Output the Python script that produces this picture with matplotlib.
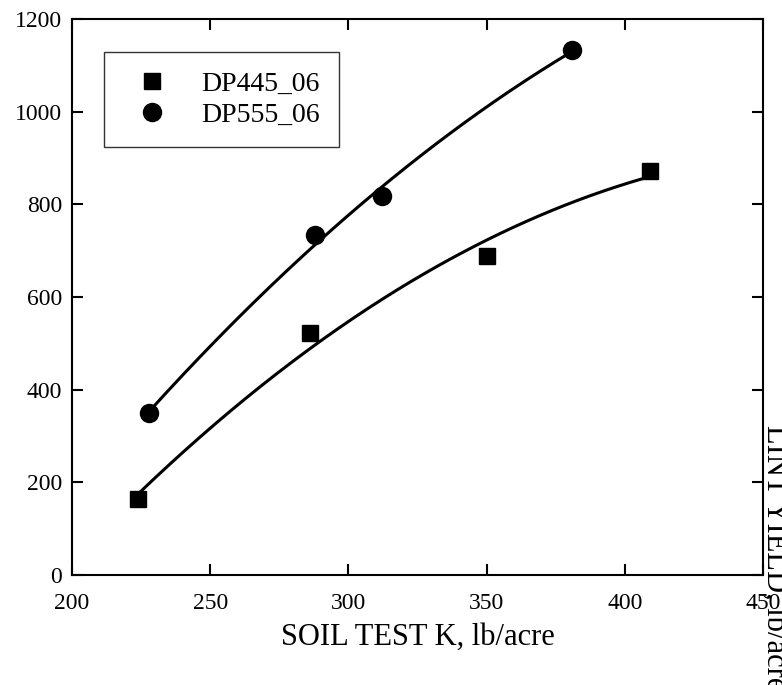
import numpy as np
import matplotlib.pyplot as plt

plt.rcParams['font.family'] = ['Liberation Serif', 'DejaVu Serif']

# soil test K (lb/acre) and lint yield (lb/acre)
k_445 = [224, 286, 350, 409]
y_445 = [164, 522, 688, 872]
k_555 = [228, 288, 312, 381]
y_555 = [350, 734, 817, 1133]

fig = plt.figure(figsize=(7.82, 6.85), dpi=100)
ax = fig.add_axes([0.0921, 0.1606, 0.8836, 0.8117])

# quadratic trend lines through each cultivar
for kx, yy in [(k_445, y_445), (k_555, y_555)]:
    c = np.polyfit(kx, yy, 2)
    xs = np.linspace(min(kx), max(kx), 200)
    ax.plot(xs, np.polyval(c, xs), color='black', lw=2.2, zorder=2)

ax.plot(k_445, y_445, 's', color='black', ms=11, ls='none', label='DP445_06', zorder=3)
ax.plot(k_555, y_555, 'o', color='black', ms=13, ls='none', label='DP555_06', zorder=3)

ax.set_xlim(200, 450)
ax.set_ylim(0, 1200)
ax.set_xticks([200, 250, 300, 350, 400, 450])
ax.set_yticks([0, 200, 400, 600, 800, 1000, 1200])
ax.tick_params(direction='in', length=8, width=1.5, top=True, right=True,
               labelsize=17)
ax.tick_params(axis='x', pad=13)
ax.tick_params(axis='y', pad=7)
for s in ax.spines.values():
    s.set_linewidth(1.5)

ax.set_xlabel('SOIL TEST K, lb/acre', fontsize=22, labelpad=6)
fig.text(0.991, 1 - 425 / 685, 'LINT YIELD, lb/acre', rotation=270,
         ha='center', va='top', fontsize=22)

leg = ax.legend(loc='upper left', bbox_to_anchor=(0.046, 0.941), fontsize=20,
                frameon=True, fancybox=False, edgecolor='black',
                borderpad=0.7, handletextpad=0.7, labelspacing=0.2,
                borderaxespad=0, handlelength=2.1)
leg.get_frame().set_linewidth(1.0)

fig.savefig('out.png', dpi=100)
